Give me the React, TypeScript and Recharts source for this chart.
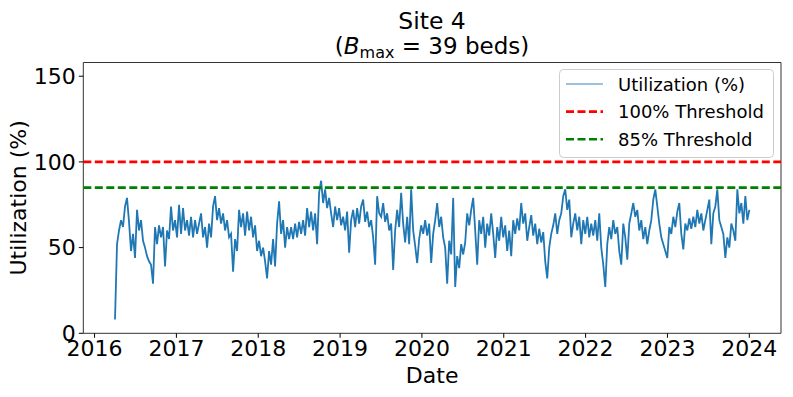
import React from 'react';
import { LineChart, Line, XAxis, YAxis, ReferenceLine, ReferenceArea, Legend } from 'recharts';

// one reading every ~9 days, from early Apr 2016 to end of Dec 2023 (decimal years)
const FIRST_SAMPLE = 2016.25;
const SAMPLE_STEP = 0.02445;

// bed utilization (%)
const utilization = [
  // 2016
  8, 52, 60, 66, 62, 74, 79, 65, 48, 58, 44, 72, 60, 66, 54, 50, 45, 42, 40, 29,
  62, 52, 63, 56, 62, 39, 60, 55, 74, 60, 66, 56, 75, 58, 73, 60, 66, 57, 68, 56,
  66, 58, 64,
  // 2017
  70, 56, 62, 50, 64, 56, 74, 80, 66, 73, 64, 70, 60, 66, 56, 58, 36, 55, 48, 72,
  62, 70, 57, 71, 60, 68, 56, 63, 48, 54, 45, 50, 42, 32, 48, 40, 55, 39, 64, 77,
  58, 66, 50, 62, 55,
  // 2018
  62, 55, 64, 56, 65, 58, 66, 57, 73, 62, 71, 60, 70, 52, 82, 89, 76, 84, 73, 79,
  70, 62, 74, 66, 73, 63, 68, 60, 71, 47, 66, 72, 62, 73, 64, 74, 78, 65, 71, 62,
  66, 56, 40, 80, 70,
  // 2019 - 2020
  68, 76, 65, 70, 60, 64, 37, 60, 72, 62, 82, 64, 53, 68, 52, 84, 60, 51, 41, 55,
  63, 58, 66, 57, 64, 41, 58, 66, 76, 62, 68, 56, 50, 29, 54, 46, 79, 27, 45, 38,
  52, 46, 53, 70, 63,
  // 2020 - 2021
  72, 79, 60, 40, 66, 58, 68, 50, 64, 57, 70, 58, 44, 62, 54, 68, 56, 63, 48, 60,
  45, 66, 58, 67, 60, 76, 64, 70, 54, 62, 69, 57, 64, 52, 61, 53, 59, 42, 32, 50,
  58, 63, 70, 58, 66,
  // 2021 - 2022
  70, 80, 84, 72, 78, 56, 64, 70, 60, 68, 52, 66, 58, 68, 56, 64, 57, 66, 54, 70,
  50, 40, 27, 52, 62, 55, 66, 58, 62, 48, 40, 64, 56, 43, 64, 70, 76, 68, 72, 60,
  66, 55, 62, 52, 60,
  // 2023
  66, 78, 84, 74, 64, 56, 52, 48, 44, 62, 58, 68, 62, 71, 76, 58, 49, 64, 60, 67,
  61, 68, 62, 72, 64, 70, 60, 66, 72, 78, 52, 70, 74, 84, 66, 62, 58, 44, 56, 50,
  64, 60, 54, 84, 70, 76, 64, 80, 66, 72,
];

const yearTicks = [2016, 2017, 2018, 2019, 2020, 2021, 2022, 2023, 2024];
const utilTicks = [0, 50, 100, 150];
const thresholdValues = [100, 85];
const thresholdNames = ['100% Threshold', '85% Threshold'];
const thresholdColors = ['#ff0000', '#008000'];

const X_DOMAIN: [number, number] = [2015.8625, 2024.3875];
const Y_DOMAIN: [number, number] = [0, 158];
const FONT = '"DejaVu Sans", sans-serif';
const DASH = '8 3.5';
const BLUE = '#1f77b4';

const data = utilization.map((u, i) => ({ t: FIRST_SAMPLE + i * SAMPLE_STEP, u }));

const legendRows = [
  { name: 'Utilization (%)', color: BLUE, dash: undefined as string | undefined, width: 1.5, opacity: 0.6 },
  { name: thresholdNames[0], color: thresholdColors[0], dash: DASH, width: 2.6, opacity: 1 },
  { name: thresholdNames[1], color: thresholdColors[1], dash: DASH, width: 2.6, opacity: 1 },
];

const LegendBox = () => (
  <svg width={215} height={89} style={{ display: 'block' }}>
    <rect x={0.5} y={0.5} width={214} height={88} rx={4} fill="#fff" fillOpacity={0.8} stroke="#cccccc" />
    {legendRows.map((r, i) => {
      const cy = 15 + i * 27.6;
      return (
        <g key={r.name}>
          <line x1={7} x2={44} y1={cy} y2={cy} stroke={r.color} strokeWidth={r.width}
            strokeDasharray={r.dash} strokeOpacity={r.opacity} />
          <text x={59} y={cy} dominantBaseline="central" fontSize={18} fontFamily={FONT} fill="#000">
            {r.name}
          </text>
        </g>
      );
    })}
  </svg>
);

const YTitle = (props: any) => {
  const vb = props.viewBox || { y: 62.5, height: 270.8 };
  const cy = vb.y + vb.height / 2;
  return (
    <text x={19} y={cy} transform={`rotate(-90, 19, ${cy})`} textAnchor="middle"
      dominantBaseline="central" fontSize={22} fontFamily={FONT} fill="#000">
      Utilization (%)
    </text>
  );
};

const App: React.FC = () => {
  return (
    <div style={{ position: 'absolute', left: 0, top: 0, width: 793, height: 397, background: '#fff', fontFamily: FONT }}>
      <svg width={793} height={62} style={{ position: 'absolute', left: 0, top: 0 }}>
        <text x={432} y={29} textAnchor="middle" fontSize={23.5} fontFamily={FONT} fill="#000">Site 4</text>
        <text x={432} y={54} textAnchor="middle" fontSize={23} fontFamily={FONT} fill="#000">
          (<tspan fontStyle="italic">B</tspan>
          <tspan fontSize={16} dy={4}>max</tspan>
          <tspan dy={-4}> = 39 beds)</tspan>
        </text>
      </svg>
      <LineChart width={793} height={397} data={data}
        margin={{ top: 62.5, right: 12, left: 0, bottom: 0 }}>
        <XAxis dataKey="t" type="number" domain={X_DOMAIN} ticks={yearTicks} allowDataOverflow
          height={63.7} axisLine={false} tickSize={4.5} tickMargin={3}
          tickLine={{ stroke: '#000' }} tick={{ fill: '#000', fontSize: 22 }}
          label={{ value: 'Date', position: 'insideBottom', offset: 14, fill: '#000', fontSize: 22 }} />
        <YAxis type="number" domain={Y_DOMAIN} ticks={utilTicks} allowDataOverflow
          width={83.3} axisLine={false} tickSize={4.5} tickMargin={3}
          tickLine={{ stroke: '#000' }} tick={{ fill: '#000', fontSize: 22 }}
          label={<YTitle />} />
        <Line type="linear" dataKey="u" stroke={BLUE} strokeWidth={1.8} strokeLinejoin="miter"
          dot={false} isAnimationActive={false} name="Utilization (%)" />
        {thresholdValues.map((v, i) => (
          <ReferenceLine key={v} y={v} stroke={thresholdColors[i]} strokeWidth={2.6}
            strokeDasharray={DASH} />
        ))}
        <ReferenceArea x1={X_DOMAIN[0]} x2={X_DOMAIN[1]} y1={Y_DOMAIN[0]} y2={Y_DOMAIN[1]}
          fill="none" stroke="#333" strokeWidth={1} ifOverflow="visible" />
        <Legend layout="vertical" align="center" verticalAlign="middle"
          wrapperStyle={{ left: 559, top: 69, width: 215, height: 89 }}
          content={() => <LegendBox />} />
      </LineChart>
    </div>
  );
};

export default App;
